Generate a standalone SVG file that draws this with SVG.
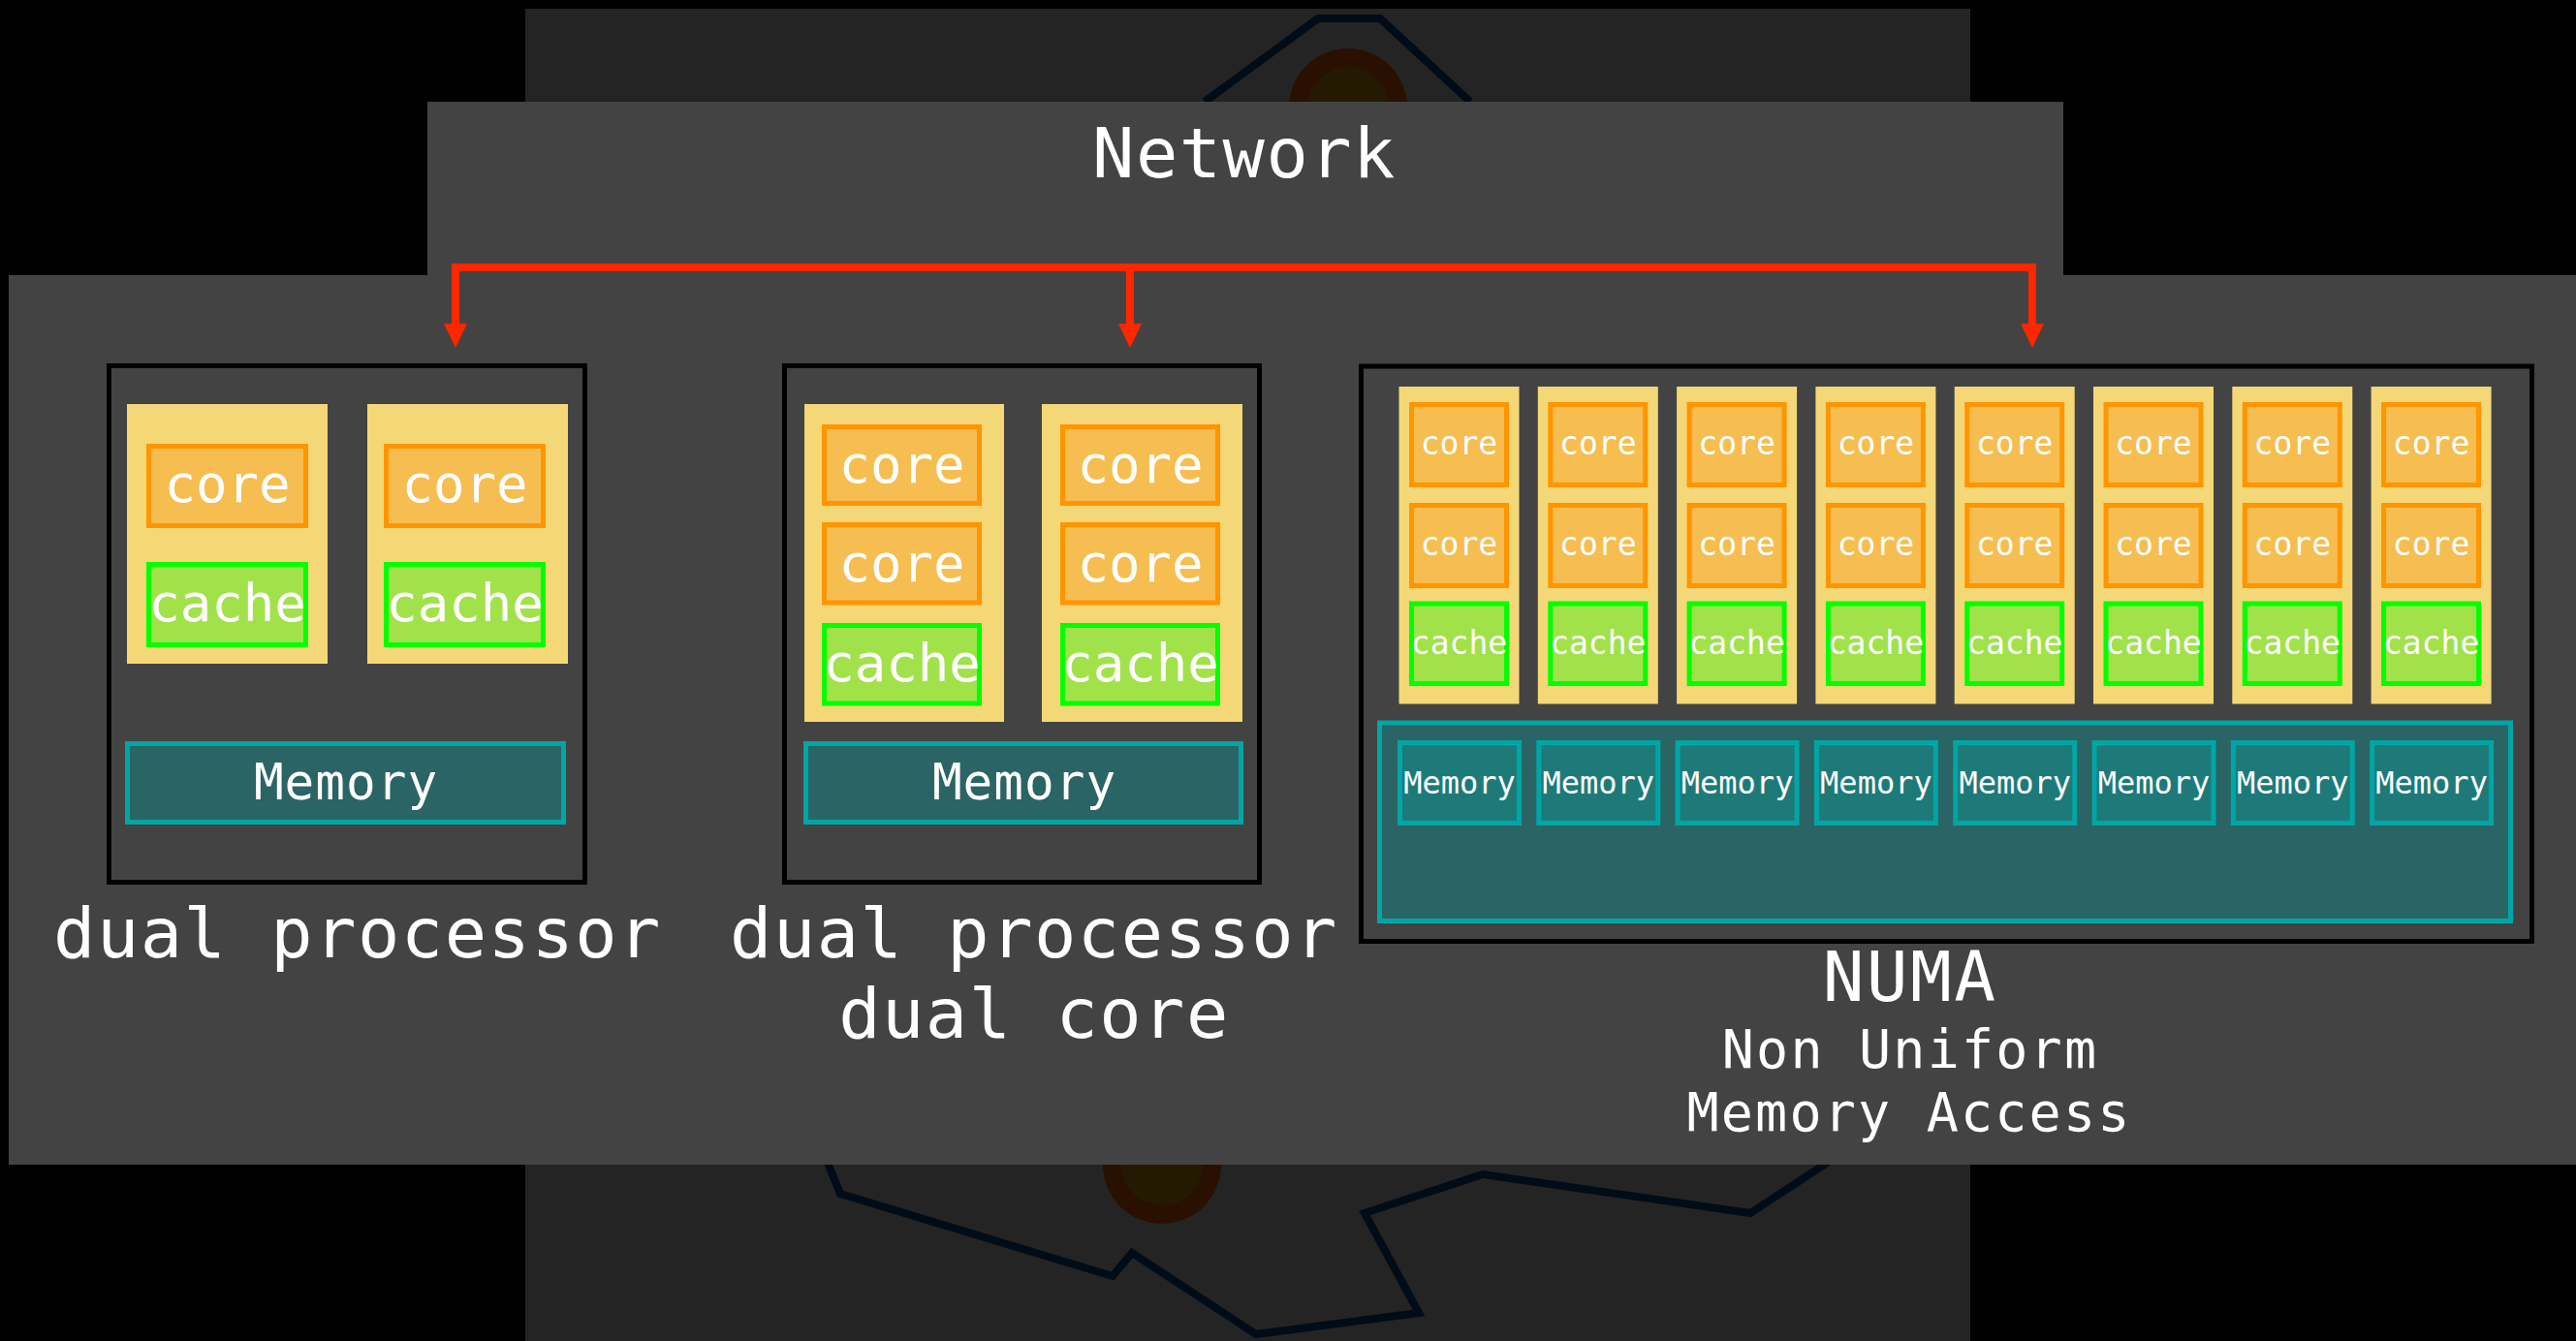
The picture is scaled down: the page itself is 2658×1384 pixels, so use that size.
<svg xmlns="http://www.w3.org/2000/svg" width="2658" height="1384" viewBox="0 0 2658 1384">
<style>
.panel{fill:#434343}
.box{fill:#434343;stroke:#000;stroke-width:5}
.chip{fill:#f4d776}
.core{fill:#f6bd50;stroke:#ff9500;stroke-width:5}
.cache{fill:#a1e24b;stroke:#00ff00;stroke-width:5}
.mem{fill:#2b6464;stroke:#00a6a6;stroke-width:5}
.memsm{fill:#1e7a79;stroke:#00a6a6;stroke-width:5}
text{font-family:"DejaVu Sans Mono","Liberation Mono",monospace;fill:#fff;text-anchor:middle}
.t54{font-size:54px}
.t33{font-size:33px}
.t51{font-size:51px;letter-spacing:1px}
.t32{font-size:32px}
.lbl{font-size:72px;letter-spacing:1.5px}
.lbl55{font-size:55px;letter-spacing:2.2px}
.logo{fill:none;stroke:#000c17;stroke-width:8}
.wire{fill:none;stroke:#ff2600;stroke-width:8}
</style>
<defs>
<marker id="arrow" markerUnits="userSpaceOnUse" viewBox="0 -13 26 26" markerWidth="26" markerHeight="26" refX="0" refY="0" orient="auto" overflow="visible">
<path d="M0,-12 L25,0 L0,12 Z" fill="#ff2600"/>
</marker>
<linearGradient id="chipg" x1="0" y1="0" x2="1" y2="1">
<stop offset="0" stop-color="#f3d673"/>
<stop offset="0.5" stop-color="#f7de85"/>
<stop offset="1" stop-color="#f2d46e"/>
</linearGradient>
</defs>
<rect width="2658" height="1384" fill="#000"/>
<g id="backdrop">
<rect x="542" y="9" width="1491" height="1375" fill="#242424"/>
<polyline class="logo" points="1243,105 1360,19 1424,19 1517,105"/>
<circle cx="1391" cy="111" r="61" fill="#2a1000"/>
<circle cx="1391" cy="111" r="42" fill="#241a02"/>
<polyline class="logo" points="852,1195 867,1232 1148,1317 1168,1293 1296,1377 1464,1355 1408,1252 1530,1212 1806,1252 1893,1195"/>
<circle cx="1199" cy="1202" r="61" fill="#2a1000"/>
<circle cx="1199" cy="1202" r="42" fill="#241a02"/>
</g>
<g id="network">
<rect class="panel" x="441" y="105" width="1688" height="180"/>
<text class="lbl" x="1284" y="183">Network</text>
</g>
<rect class="panel" x="9" y="284" width="2649" height="918"/>
<g id="connectors">
<path class="wire" d="M466,276 H2101"/>
<path class="wire" d="M470,272 V334" marker-end="url(#arrow)"/>
<path class="wire" d="M1166,272 V334" marker-end="url(#arrow)"/>
<path class="wire" d="M2097,272 V334" marker-end="url(#arrow)"/>
</g>
<g id="dual-processor">
<rect class="box" x="112.5" y="377.5" width="491" height="533"/>
<rect class="chip" x="131" y="417" width="207" height="268" fill="url(#chipg)"/>
<rect class="chip" x="379" y="417" width="207" height="268" fill="url(#chipg)"/>
<rect class="core" x="153.5" y="460.5" width="162" height="82"/>
<rect class="cache" x="153.5" y="582.5" width="162" height="83"/>
<rect class="core" x="398.5" y="460.5" width="162" height="82"/>
<rect class="cache" x="398.5" y="582.5" width="162" height="83"/>
<text class="t54" x="234.5" y="518">core</text>
<text class="t54" x="234.5" y="641">cache</text>
<text class="t54" x="479.5" y="518">core</text>
<text class="t54" x="479.5" y="641">cache</text>
<rect class="mem" x="131.5" y="767.5" width="450" height="81"/>
<text class="t51" x="357" y="825">Memory</text>
<text class="lbl" x="369" y="988">dual processor</text>
</g>
<g id="dual-processor-dual-core">
<rect class="box" x="809.5" y="377.5" width="490" height="533"/>
<rect class="chip" x="830" y="417" width="206" height="328" fill="url(#chipg)"/>
<rect class="chip" x="1075" y="417" width="207" height="328" fill="url(#chipg)"/>
<rect class="core" x="850.5" y="440.5" width="160" height="79"/>
<rect class="core" x="850.5" y="541.5" width="160" height="80.5"/>
<rect class="cache" x="850.5" y="645.5" width="160" height="80.5"/>
<rect class="core" x="1096.5" y="440.5" width="160" height="79"/>
<rect class="core" x="1096.5" y="541.5" width="160" height="80.5"/>
<rect class="cache" x="1096.5" y="645.5" width="160" height="80.5"/>
<text class="t54" x="930.5" y="498">core</text>
<text class="t54" x="930.5" y="600">core</text>
<text class="t54" x="930.5" y="703">cache</text>
<text class="t54" x="1176.5" y="498">core</text>
<text class="t54" x="1176.5" y="600">core</text>
<text class="t54" x="1176.5" y="703">cache</text>
<rect class="mem" x="831.5" y="767.5" width="449" height="81"/>
<text class="t51" x="1057" y="825">Memory</text>
<text class="lbl" x="1067" y="988">dual processor</text>
<text class="lbl" x="1067" y="1071">dual core</text>
</g>
<g id="numa">
<rect class="box" x="1404.5" y="378" width="1208" height="593.5"/>
<rect class="mem" x="1423.5" y="746" width="1167" height="204.5"/>
<g transform="translate(1443.5,0)">
<rect class="chip" x="0" y="399" width="124" height="327.5" fill="url(#chipg)"/>
<rect class="core" x="13" y="417.5" width="98" height="83"/>
<rect class="core" x="13" y="521.5" width="98" height="83"/>
<rect class="cache" x="13" y="623" width="98" height="82.5"/>
<text class="t33" x="62" y="469">core</text><text class="t33" x="62" y="573">core</text><text class="t33" x="62" y="675">cache</text>
<rect class="memsm" x="1" y="766.5" width="123" height="83"/><text class="t32" x="62.5" y="819">Memory</text>
</g>
<g transform="translate(1586.8,0)">
<rect class="chip" x="0" y="399" width="124" height="327.5" fill="url(#chipg)"/>
<rect class="core" x="13" y="417.5" width="98" height="83"/>
<rect class="core" x="13" y="521.5" width="98" height="83"/>
<rect class="cache" x="13" y="623" width="98" height="82.5"/>
<text class="t33" x="62" y="469">core</text><text class="t33" x="62" y="573">core</text><text class="t33" x="62" y="675">cache</text>
<rect class="memsm" x="1" y="766.5" width="123" height="83"/><text class="t32" x="62.5" y="819">Memory</text>
</g>
<g transform="translate(1730.1,0)">
<rect class="chip" x="0" y="399" width="124" height="327.5" fill="url(#chipg)"/>
<rect class="core" x="13" y="417.5" width="98" height="83"/>
<rect class="core" x="13" y="521.5" width="98" height="83"/>
<rect class="cache" x="13" y="623" width="98" height="82.5"/>
<text class="t33" x="62" y="469">core</text><text class="t33" x="62" y="573">core</text><text class="t33" x="62" y="675">cache</text>
<rect class="memsm" x="1" y="766.5" width="123" height="83"/><text class="t32" x="62.5" y="819">Memory</text>
</g>
<g transform="translate(1873.4,0)">
<rect class="chip" x="0" y="399" width="124" height="327.5" fill="url(#chipg)"/>
<rect class="core" x="13" y="417.5" width="98" height="83"/>
<rect class="core" x="13" y="521.5" width="98" height="83"/>
<rect class="cache" x="13" y="623" width="98" height="82.5"/>
<text class="t33" x="62" y="469">core</text><text class="t33" x="62" y="573">core</text><text class="t33" x="62" y="675">cache</text>
<rect class="memsm" x="1" y="766.5" width="123" height="83"/><text class="t32" x="62.5" y="819">Memory</text>
</g>
<g transform="translate(2016.7,0)">
<rect class="chip" x="0" y="399" width="124" height="327.5" fill="url(#chipg)"/>
<rect class="core" x="13" y="417.5" width="98" height="83"/>
<rect class="core" x="13" y="521.5" width="98" height="83"/>
<rect class="cache" x="13" y="623" width="98" height="82.5"/>
<text class="t33" x="62" y="469">core</text><text class="t33" x="62" y="573">core</text><text class="t33" x="62" y="675">cache</text>
<rect class="memsm" x="1" y="766.5" width="123" height="83"/><text class="t32" x="62.5" y="819">Memory</text>
</g>
<g transform="translate(2160,0)">
<rect class="chip" x="0" y="399" width="124" height="327.5" fill="url(#chipg)"/>
<rect class="core" x="13" y="417.5" width="98" height="83"/>
<rect class="core" x="13" y="521.5" width="98" height="83"/>
<rect class="cache" x="13" y="623" width="98" height="82.5"/>
<text class="t33" x="62" y="469">core</text><text class="t33" x="62" y="573">core</text><text class="t33" x="62" y="675">cache</text>
<rect class="memsm" x="1" y="766.5" width="123" height="83"/><text class="t32" x="62.5" y="819">Memory</text>
</g>
<g transform="translate(2303.3,0)">
<rect class="chip" x="0" y="399" width="124" height="327.5" fill="url(#chipg)"/>
<rect class="core" x="13" y="417.5" width="98" height="83"/>
<rect class="core" x="13" y="521.5" width="98" height="83"/>
<rect class="cache" x="13" y="623" width="98" height="82.5"/>
<text class="t33" x="62" y="469">core</text><text class="t33" x="62" y="573">core</text><text class="t33" x="62" y="675">cache</text>
<rect class="memsm" x="1" y="766.5" width="123" height="83"/><text class="t32" x="62.5" y="819">Memory</text>
</g>
<g transform="translate(2446.6,0)">
<rect class="chip" x="0" y="399" width="124" height="327.5" fill="url(#chipg)"/>
<rect class="core" x="13" y="417.5" width="98" height="83"/>
<rect class="core" x="13" y="521.5" width="98" height="83"/>
<rect class="cache" x="13" y="623" width="98" height="82.5"/>
<text class="t33" x="62" y="469">core</text><text class="t33" x="62" y="573">core</text><text class="t33" x="62" y="675">cache</text>
<rect class="memsm" x="1" y="766.5" width="123" height="83"/><text class="t32" x="62.5" y="819">Memory</text>
</g>
<text x="1971" y="1033" style="font-size:71px;letter-spacing:2.4px">NUMA</text>
<text class="lbl55" x="1971" y="1102">Non Uniform</text>
<text class="lbl55" x="1970" y="1167">Memory Access</text>
</g>
</svg>
